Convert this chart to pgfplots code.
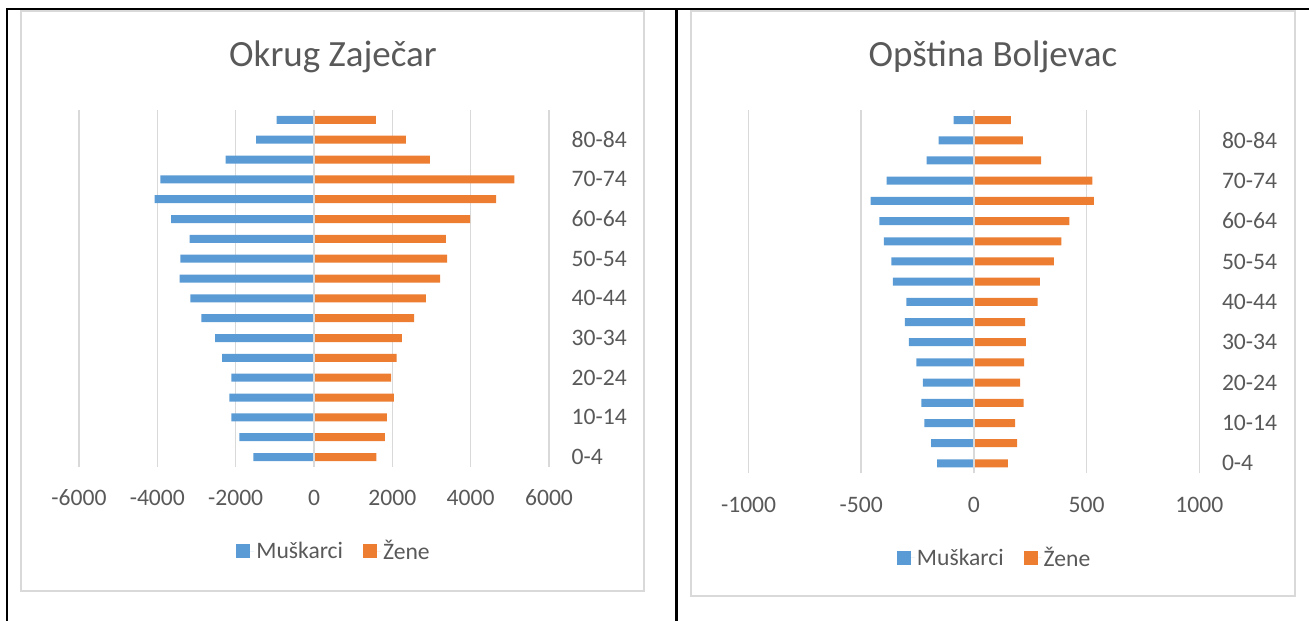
\documentclass[border=0pt]{standalone}
\usepackage{pgfplots}
\pgfplotsset{compat=1.18}
\usepackage{fontspec}
\setmainfont{Carlito}
\definecolor{mblue}{HTML}{5B9BD5}
\definecolor{zor}{HTML}{ED7D31}
\definecolor{gridc}{HTML}{D9D9D9}
\definecolor{txt}{HTML}{595959}
\newcommand\tfont{\fontsize{23.6pt}{28pt}\selectfont}
\newcommand\hfont{\fontsize{37pt}{44pt}\selectfont}
\pgfplotsset{pyr/.style={
  scale only axis, axis line style={draw=none}, major tick length=0pt, tick style={draw=none},
  xmajorgrids, grid style={gridc, line width=1.6pt},
  ymin=0.5, ymax=18.5, ytick={1,3,...,17},
  yticklabels={0-4,10-14,20-24,30-34,40-44,50-54,60-64,70-74,80-84},
  yticklabel pos=right, scaled ticks=false,
  yticklabel style={anchor=west, inner sep=0pt, xshift=22.5pt, font=\tfont, text=txt},
  xticklabel style={anchor=center, inner sep=0pt, yshift=-31pt, font=\tfont, text=txt},
  /pgf/number format/assume math mode=true,
  legend style={draw=none, fill=none, anchor=center, legend columns=2, font=\tfont, text=txt,
    /tikz/every even column/.append style={column sep=18pt}},
}}
\begin{document}
\begin{tikzpicture}[x=1pt,y=1pt]
\useasboundingbox (0pt,0pt) rectangle (1309pt,621pt);
\draw[gridc, line width=2pt] (21pt,30pt) rectangle (644pt,610pt);
\draw[gridc, line width=2pt] (691pt,25pt) rectangle (1295pt,610pt);
\draw[black, line width=2.5pt] (6.8pt,0pt) -- (6.8pt,612pt) -- (1309pt,612pt);
\draw[black, line width=2.5pt] (676.4pt,0pt) -- (676.4pt,612pt);
\node[anchor=base, font=\hfont, text=txt] at (333pt,554.5pt) {Okrug Zaječar};
\node[anchor=base, font=\hfont, text=txt] at (993pt,554.5pt) {Opština Boljevac};

\begin{axis}[pyr, at={(79pt,154pt)}, anchor=south west, width=470pt, height=357pt,
  xmin=-6000, xmax=6000, xtick={-6000,-4000,-2000,0,2000,4000,6000},
  xticklabels={-6000,-4000,-2000,0,2000,4000,6000},
  legend style={at={(0.5426,-0.2353)}}]
\addplot[xbar, bar width=8pt, bar shift=0pt, fill=mblue, draw=none,
  legend image code/.code={\path (0pt,0pt) -- (18pt,0pt); \fill[mblue] (0pt,-7pt) rectangle (14pt,7pt);}]
  coordinates {(-1548,1) (-1905,2) (-2109,3) (-2160,4) (-2109,5) (-2347,6) (-2526,7) (-2875,8) (-3156,9)
  (-3428,10) (-3411,11) (-3173,12) (-3648,13) (-4066,14) (-3921,15) (-2255,16) (-1480,17) (-954,18)};
\addlegendentry{Muškarci}
\addplot[xbar, bar width=8pt, bar shift=0pt, fill=zor, draw=none,
  legend image code/.code={\path (0pt,0pt) -- (18pt,0pt); \fill[zor] (0pt,-7pt) rectangle (14pt,7pt);}]
  coordinates {(1590,1) (1811,2) (1862,3) (2041,4) (1972,5) (2108,6) (2245,7) (2559,8) (2857,9)
  (3222,10) (3401,11) (3367,12) (3987,13) (4651,14) (5118,15) (2959,16) (2347,17) (1582,18)};
\addlegendentry{Žene}
\draw[gridc, line width=1.6pt] (axis cs:0,0.5) -- (axis cs:0,18.5);
\end{axis}

\begin{axis}[pyr, at={(748.6pt,147.5pt)}, anchor=south west, width=450.7pt, height=363.5pt,
  xmin=-1000, xmax=1000, xtick={-1000,-500,0,500,1000},
  xticklabels={-1000,-500,0,500,1000},
  legend style={at={(0.5458,-0.2314)}}]
\addplot[xbar, bar width=8pt, bar shift=0pt, fill=mblue, draw=none,
  legend image code/.code={\path (0pt,0pt) -- (18pt,0pt); \fill[mblue] (0pt,-7pt) rectangle (14pt,7pt);}]
  coordinates {(-164,1) (-190,2) (-220,3) (-233,4) (-227,5) (-255,6) (-289,7) (-307,8) (-300,9)
  (-360,10) (-366,11) (-400,12) (-420,13) (-459,14) (-388,15) (-210,16) (-157,17) (-90,18)};
\addlegendentry{Muškarci}
\addplot[xbar, bar width=8pt, bar shift=0pt, fill=zor, draw=none,
  legend image code/.code={\path (0pt,0pt) -- (18pt,0pt); \fill[zor] (0pt,-7pt) rectangle (14pt,7pt);}]
  coordinates {(150,1) (192,2) (183,3) (220,4) (205,5) (223,6) (230,7) (227,8) (283,9)
  (293,10) (355,11) (388,12) (423,13) (532,14) (526,15) (298,16) (217,17) (164,18)};
\addlegendentry{Žene}
\draw[gridc, line width=1.6pt] (axis cs:0,0.5) -- (axis cs:0,18.5);
\end{axis}
\end{tikzpicture}
\end{document}
